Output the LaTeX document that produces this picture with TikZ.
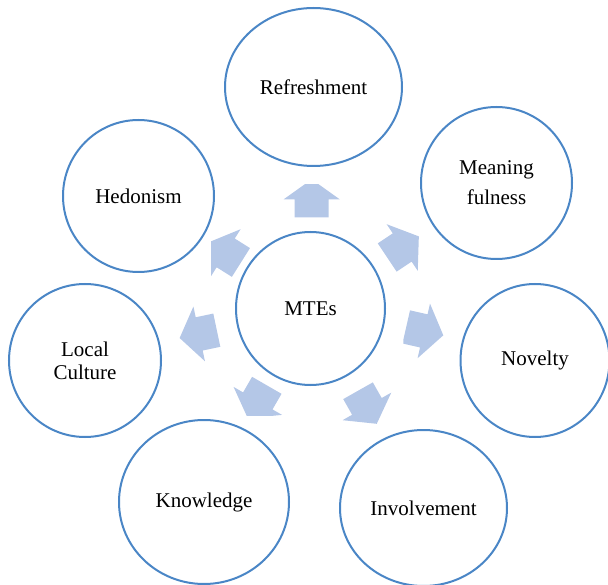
\documentclass[tikz,border=0pt]{standalone}
\usepackage{fontspec}
\setmainfont{Liberation Serif}
\usetikzlibrary{shapes.geometric}
\definecolor{ringblue}{RGB}{74,134,198}
\definecolor{arrowblue}{RGB}{180,199,231}
\newcommand{\radarrow}[2]{%
  \fill[arrowblue, shift={#1}, rotate=#2]
    (-18,-17) -- (0,-17) -- (0,-28) -- (20,0) -- (0,28) -- (0,17) -- (-18,17) -- cycle;}
\begin{document}
\begin{tikzpicture}[x=1pt,y=1pt,
  ring/.style={ellipse, draw=ringblue, line width=2pt, inner sep=0pt, align=center,
    font=\fontsize{21}{30}\selectfont}]
\useasboundingbox (0,0) rectangle (608,-585);

% outer circles
\node[ring, minimum width=177pt, minimum height=158pt] (refr) at (313.5,-87) {Refreshment};
\node[ring, minimum width=151pt, minimum height=152pt] (hedo) at (138.5,-196) {Hedonism};
\node[ring, minimum width=151pt, minimum height=152pt] (mean) at (496.5,-183) {Meaning\\fulness};
\node[ring, minimum width=149pt, minimum height=153pt] (mtes) at (310.5,-308.5) {MTEs};
\node[ring, minimum width=152pt, minimum height=153pt, font=\fontsize{21}{23}\selectfont] (locc) at (85,-360.5) {Local\\Culture};
\node[ring, minimum width=149pt, minimum height=153pt] (nove) at (535,-360.5) {Novelty};
\node[ring, minimum width=170pt, minimum height=164pt] (know) at (204,-502) {Knowledge};
\node[ring, minimum width=167pt, minimum height=156pt] (invo) at (423.5,-508) {Involvement};

% radial block arrows
\begin{scope}
  \clip (0,-185) rectangle (608,-585);
  \radarrow{(311.7,-199.3)}{90}
\end{scope}
\radarrow{(402.2,-247.5)}{33.7}
\begin{scope}
  \clip (403.3,0) rectangle (608,-585);
  \radarrow{(423.8,-330.9)}{-12.8}
\end{scope}
\radarrow{(366.9,-406.4)}{-60.5}
\begin{scope}
  \clip (0,0) rectangle (608,-415);
  \radarrow{(257.8,-400.9)}{-120}
\end{scope}
\radarrow{(199.2,-333.9)}{-168.1}
\begin{scope}
  \clip (211,0) rectangle (608,-585);
  \radarrow{(225.7,-252.9)}{147.8}
\end{scope}
\end{tikzpicture}
\end{document}
